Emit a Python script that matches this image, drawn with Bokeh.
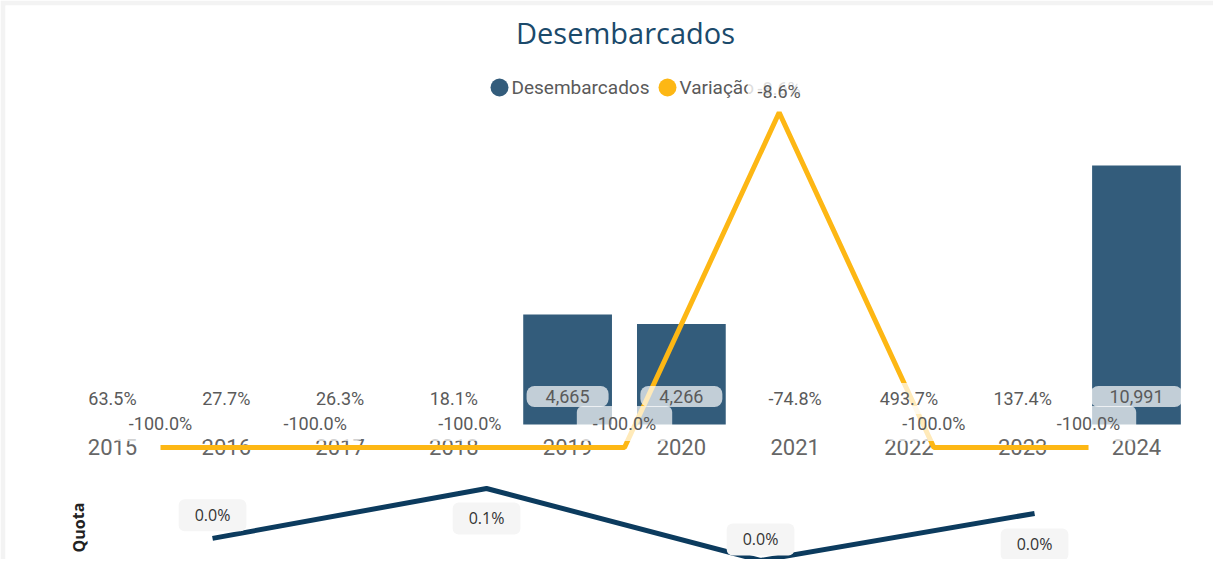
from bokeh.plotting import figure
from bokeh.models import Range1d, ColumnDataSource
from bokeh.core.properties import value
from bokeh.embed import file_html
from bokeh.resources import INLINE

# ---------------- data ----------------
years = ["2015", "2016", "2017", "2018", "2019", "2020", "2021", "2022", "2023", "2024"]
desembarcados = [0, 0, 0, 0, 4665, 4266, 0, 0, 0, 10991]
pct_labels = ["63.5%", "27.7%", "26.3%", "18.1%", None, None, "-74.8%", "493.7%", "137.4%", None]
variacao = [-100.0, -100.0, -100.0, -100.0, -8.6, -100.0, -100.0]
quota = [0.026, 0.062, 0.010, 0.044]

BAR = "#335C7B"
YEL = "#FDB714"
NAVY = "#0C3B5E"
LBL = "#5A5A5A"
LFONT = value("Roboto")

W, H = 1213, 559
FL, FT = 5, 5

yi = list(range(len(years)))  # category index positions

p = figure(width=W, height=H, x_range=Range1d(-0.9404, 9.677),
           y_range=Range1d(-5729, 17781), output_backend="svg", toolbar_location=None,
           x_axis_location=None, y_axis_location=None,
           min_border_left=FL, min_border_right=0, min_border_top=FT, min_border_bottom=0)
p.grid.visible = False
p.outline_line_color = None
p.background_fill_color = "white"
p.border_fill_color = "#F3F3F3"

p.extra_x_ranges = {"vx": Range1d(-1.0021, 6.808), "qx": Range1d(-0.7555, 3.653), "px": Range1d(FL, W)}
p.extra_y_ranges = {"var": Range1d(-130.558, 20.593), "qy": Range1d(0.01072, 0.41084), "py": Range1d(H, FT)}

# bars
bx = [i for i, v in zip(yi, desembarcados) if v > 0]
bv = [v for v in desembarcados if v > 0]
p.vbar(x=bx, top=bv, bottom=0, width=0.78, fill_color=BAR, line_color=None)

# category labels (drawn under the line)
p.text(x=yi, y=[0] * len(years), text=years, y_offset=23, text_align="center",
       text_baseline="middle", text_font_size="22px", text_color="#666666", text_font=LFONT)

# Variação line
vx = list(range(len(variacao)))
p.line(x=vx, y=variacao, x_range_name="vx", y_range_name="var", line_width=5, line_color=YEL)

# percentage row labels
px_ = [i for i, t in zip(yi, pct_labels) if t]
pt_ = [t for t in pct_labels if t]
p.text(x=px_, y=[0] * len(px_), text=pt_, y_offset=-26, text_align="center", text_baseline="middle",
       text_font_size="18px", text_color=LBL, text_font=LFONT,
       background_fill_color="white", background_fill_alpha=0.7,
       padding=dict(left=14, right=14, top=5, bottom=5), border_radius=6)

# bar value labels
p.text(x=bx, y=[0] * len(bx), text=[f"{v:,}" for v in bv], y_offset=-28, text_align="center",
       text_baseline="middle", text_font_size="18px", text_color=LBL, text_font=LFONT,
       background_fill_color="white", background_fill_alpha=0.7,
       padding=dict(left=19, right=19, top=4, bottom=4), border_radius=8)

# Variação labels
p.text(x=vx, y=variacao, text=[f"{v:.1f}%" for v in variacao], x_range_name="vx", y_range_name="var",
       y_offset=-24, text_align="center", text_baseline="middle", text_font_size="18px",
       text_color=LBL, text_font=LFONT,
       background_fill_color="white", background_fill_alpha=0.7,
       padding=dict(left=16, right=16, top=7, bottom=7), border_radius=6)

# legend
p.scatter(x=[499, 667], y=[87, 87], x_range_name="px", y_range_name="py", size=18,
          fill_color=[BAR, YEL], line_color=None)
p.text(x=[511, 679], y=[87, 87], text=["Desembarcados", "Variação"], x_range_name="px", y_range_name="py",
       text_align="left", text_baseline="middle", text_font_size="19px", text_color=LBL, text_font=LFONT)
# the -8.6% label overlaps the legend; redraw it on top
p.text(x=[vx[4]], y=[variacao[4]], text=[f"{variacao[4]:.1f}%"], x_range_name="vx", y_range_name="var",
       y_offset=-21, text_align="center", text_baseline="middle", text_font_size="18px",
       text_color=LBL, text_font=LFONT,
       background_fill_color="white", background_fill_alpha=0.8,
       padding=dict(left=10, right=10, top=5, bottom=5), border_radius=6)

# title
p.text(x=[625], y=[32], text=["Desembarcados"], x_range_name="px", y_range_name="py",
       text_align="center", text_baseline="middle", text_font_size="29px", text_color="#1B4A6B",
       text_font=value("Open Sans"))

# Quota chart
qx = list(range(len(quota)))
p.line(x=qx, y=quota, x_range_name="qx", y_range_name="qy", line_width=5, line_color=NAVY)
qsrc = ColumnDataSource(dict(x=qx, y=quota, t=[f"{v:.1f}%" for v in quota], off=[-23, 30, -21, 31]))
p.text(x="x", y="y", text="t", y_offset="off", source=qsrc, x_range_name="qx", y_range_name="qy",
       text_align="center", text_baseline="middle", text_font_size="16px", text_color="#333333",
       text_font=value("Open Sans"),
       background_fill_color="#F5F5F5", background_fill_alpha=1.0,
       padding=dict(left=16, right=16, top=5, bottom=5), border_radius=6)
p.text(x=[78], y=[527], text=["Quota"], x_range_name="px", y_range_name="py", angle=1.5708,
       text_align="center", text_baseline="middle", text_font_size="16px", text_font_style="bold",
       text_color="#222222", text_font=value("Open Sans"))

open("out.html", "w").write(file_html(p, INLINE))
